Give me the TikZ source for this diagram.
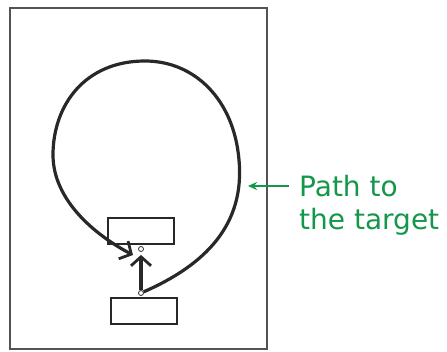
\documentclass[tikz,border=0pt]{standalone}
\usepackage{fontspec}
\setsansfont{DejaVu Sans}
\usetikzlibrary{arrows.meta}
\definecolor{pathgreen}{RGB}{20,150,75}
\definecolor{boxgray}{RGB}{40,40,40}
\tikzset{
  frame/.style={draw=boxgray!80, line width=2.4pt},
  boxnode/.style={draw=boxgray, line width=2.4pt, minimum width=66pt, minimum height=26pt, inner sep=0pt},
  dotnode/.style={circle, draw=boxgray, line width=0.8pt, fill=white, minimum size=5pt, inner sep=0pt},
  loop/.style={draw=boxgray, line width=3.2pt},
  chev/.style={-{Straight Barb[length=9pt, width=20pt, line width=2.8pt]}},
  greenarrow/.style={draw=pathgreen, line width=1.6pt, -{Stealth[length=9pt, width=8pt]}},
  label/.style={text=pathgreen, font=\sffamily\fontsize{28}{33}\selectfont, align=left, anchor=north west, inner sep=0pt}
}
\begin{document}
\begin{tikzpicture}[x=1pt, y=-1pt]
\useasboundingbox (0,0) rectangle (447,351);
\node[frame, minimum width=257pt, minimum height=341pt, inner sep=0pt] (outer) at (138.5,178.5) {};
\node[boxnode] (upper) at (141,231) {};
\node[boxnode] (lower) at (144,311) {};
\node[dotnode] (target) at (141,249) {};
\node[dotnode] (start) at (141,293) {};
\coordinate (tip) at (133,255);
\draw[loop, chev] (start) .. controls (205,265) and (245,225) .. (239,160)
  .. controls (234,100) and (195,61) .. (145,61)
  .. controls (85,61) and (53,105) .. (53,155)
  .. controls (53,200) and (95,235) .. (tip);
\draw[loop, chev, shorten >=3pt] (start) -- (target);
\coordinate (gstart) at (289,186);
\coordinate (gend) at (248,186);
\draw[greenarrow] (gstart) -- (gend);
\node[label] (txt) at (299,175) {Path to\\the target};
\end{tikzpicture}
\end{document}
